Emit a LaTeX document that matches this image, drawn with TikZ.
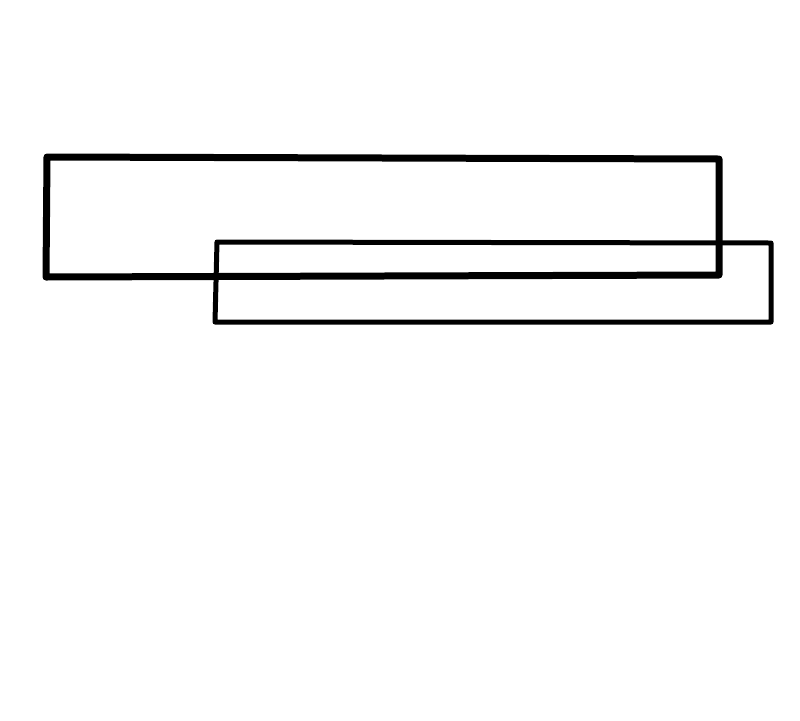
\documentclass[tikz,border=0pt]{standalone}
\usepackage{tikz}

\begin{document}
\begin{tikzpicture}[x=0.02cm,y=-0.02cm,
  thickbox/.style={line width=0.14cm,line join=round},
  thinbox/.style={line width=0.1cm,line join=round}]
\useasboundingbox (0,0) rectangle (800,720);
\draw [thickbox] (47,157) -- (719,159) -- (719,275) -- (46,277) -- cycle;
\draw [thinbox] (217,242) -- (771,243) -- (771,322) -- (215,322) -- cycle;
\end{tikzpicture}
\end{document}
